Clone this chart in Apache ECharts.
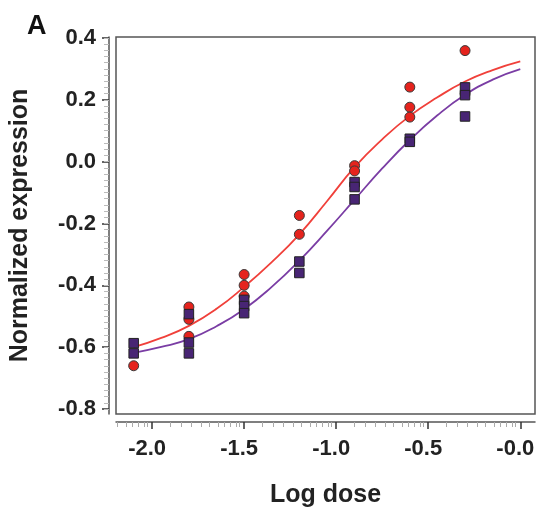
<!DOCTYPE html>
<html><head><meta charset="utf-8">
<script src="https://cdn.jsdelivr.net/npm/echarts@6/dist/echarts.min.js"></script>
<style>html,body{margin:0;padding:0;background:#fff}#c{width:539px;height:514px}</style>
</head><body><div id="c"></div>
<script>
// Data
const redX = [-2.1, -1.8, -1.8, -1.8, -1.5, -1.5, -1.5, -1.2, -1.2, -0.9, -0.9, -0.6, -0.6, -0.6, -0.3, -0.3];
const redY = [-0.66, -0.47, -0.51, -0.565, -0.365, -0.40, -0.435, -0.174, -0.235, -0.013, -0.03, 0.241, 0.176, 0.144, 0.359, 0.22];
const purpleX = [-2.1, -2.1, -1.8, -1.8, -1.8, -1.5, -1.5, -1.5, -1.2, -1.2, -0.9, -0.9, -0.9, -0.6, -0.6, -0.3, -0.3, -0.3];
const purpleY = [-0.587, -0.62, -0.493, -0.585, -0.62, -0.447, -0.467, -0.49, -0.323, -0.36, -0.066, -0.082, -0.122, 0.074, 0.064, 0.24, 0.215, 0.146];
const curveX = [-2.1, -1.95, -1.8, -1.65, -1.5, -1.35, -1.2, -1.05, -0.9, -0.75, -0.6, -0.45, -0.3, -0.15, 0];
const redCurve = [-0.600, -0.570, -0.531, -0.476, -0.405, -0.325, -0.235, -0.128, -0.018, 0.072, 0.148, 0.208, 0.259, 0.296, 0.324];
const purpleCurve = [-0.618, -0.599, -0.574, -0.532, -0.477, -0.405, -0.320, -0.224, -0.123, -0.022, 0.07, 0.150, 0.216, 0.265, 0.299];
const xTicks = [-2.0, -1.5, -1.0, -0.5, 0.0];
const yTicks = [-0.8, -0.6, -0.4, -0.2, 0.0, 0.2, 0.4];
const xMinorFrac = [0.196, 0.315, 0.424, 0.533, 0.62, 0.717, 0.782, 0.847, 0.91, 0.945];

const xMin = -2.196, xMax = 0.08, yMin = -0.816, yMax = 0.403;
const xMinor = [];
[-2.5, -2.0, -1.5, -1.0, -0.5].forEach(b => xMinorFrac.forEach(f => {
  const v = b + 0.5 * f; if (v >= xMin && v <= xMax) xMinor.push(+v.toFixed(4));
}));
const yMinor = [];
for (let i = -40; i <= 20; i++) { const v = i * 0.02; if (v >= yMin && v <= yMax) yMinor.push(+v.toFixed(3)); }

const zip = (a, b) => a.map((v, i) => [v, b[i]]);
const font = 'Liberation Sans, Arial, sans-serif';

const chart = echarts.init(document.getElementById('c'));
chart.setOption({
  animation: false,
  graphic: [{ type: 'text', left: 27, top: 13, style: { text: 'A', font: 'bold 27px ' + font, fill: '#111' } }],
  grid: { left: 115, right: 4, top: 37, bottom: 100, show: true, borderColor: '#555', borderWidth: 1.5, backgroundColor: 'transparent' },
  xAxis: [{
    type: 'value', min: xMin, max: xMax, offset: 8,
    axisLine: { onZero: false, lineStyle: { color: '#555', width: 1.5 } },
    axisTick: { customValues: xTicks, length: 7, lineStyle: { color: '#333', width: 1.5 } },
    axisLabel: { customValues: xTicks, margin: 16, fontFamily: font, fontWeight: 'bold', fontSize: 22, color: '#222',
      padding: [0, 10, 0, 0],
      formatter: v => (Math.abs(v) < 1e-9 ? '-0.0' : v.toFixed(1)) },
    splitLine: { show: false },
    name: 'Log dose', nameLocation: 'middle', nameGap: 61,
    nameTextStyle: { fontFamily: font, fontWeight: 'bold', fontSize: 25, color: '#222' }
  }, {
    type: 'value', min: xMin, max: xMax, offset: 8, position: 'bottom',
    axisLine: { show: false, onZero: false },
    axisTick: { customValues: xMinor, length: 5, lineStyle: { color: '#aaa', width: 1 } },
    axisLabel: { show: false }, splitLine: { show: false }
  }],
  yAxis: [{
    type: 'value', min: yMin, max: yMax, offset: 7,
    axisLine: { onZero: false, lineStyle: { color: '#555', width: 1.5 } },
    axisTick: { customValues: yTicks, length: 7, lineStyle: { color: '#333', width: 1.5 } },
    axisLabel: { customValues: yTicks, margin: 13, fontFamily: font, fontWeight: 'bold', fontSize: 22, color: '#222',
      formatter: v => v.toFixed(1) },
    splitLine: { show: false },
    name: 'Normalized expression', nameLocation: 'middle', nameGap: 76, nameRotate: 90,
    nameTextStyle: { fontFamily: font, fontWeight: 'bold', fontSize: 25, color: '#222' }
  }, {
    type: 'value', min: yMin, max: yMax, offset: 7, position: 'left',
    axisLine: { show: false, onZero: false },
    axisTick: { customValues: yMinor, length: 5, lineStyle: { color: '#bbb', width: 1 } },
    axisLabel: { show: false }, splitLine: { show: false }
  }],
  series: [
    { type: 'line', data: zip(curveX, redCurve), smooth: true, showSymbol: false, lineStyle: { color: '#f0403a', width: 1.8 }, z: 2 },
    { type: 'line', data: zip(curveX, purpleCurve), smooth: true, showSymbol: false, lineStyle: { color: '#7a3da4', width: 1.8 }, z: 2 },
    { type: 'scatter', data: zip(redX, redY), symbol: 'circle', symbolSize: 10,
      itemStyle: { color: '#e5231d', borderColor: '#3a3a3a', borderWidth: 1, opacity: 1 }, z: 3 },
    { type: 'scatter', data: zip(purpleX, purpleY), symbol: 'rect', symbolSize: 9.5,
      itemStyle: { color: '#482574', borderColor: '#222', borderWidth: 1, opacity: 1 }, z: 4 }
  ]
});
</script></body></html>
